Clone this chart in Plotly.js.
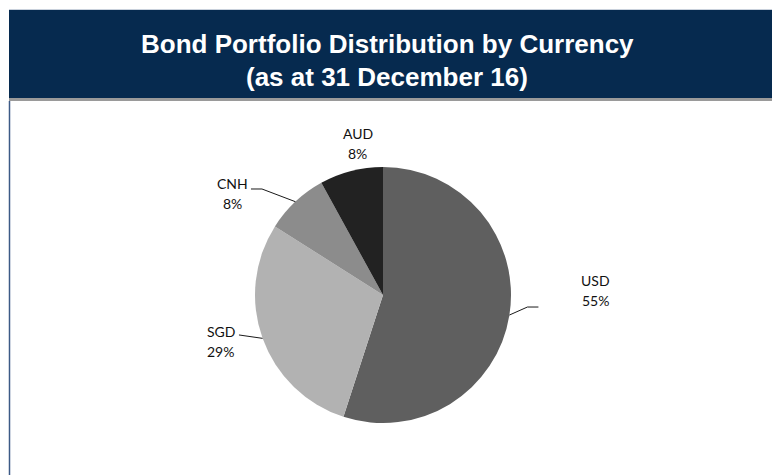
<!DOCTYPE html>
<html>
<head>
<meta charset="utf-8">
<script src="https://cdn.plot.ly/plotly-3.0.1.min.js"></script>
<style>html,body{margin:0;padding:0;background:#fff;}#chart{width:772px;height:475px;}</style>
</head>
<body>
<div id="chart"></div>
<script>
// ---- data ----
const categories = ['USD', 'SGD', 'CNH', 'AUD'];
const shares = [55, 29, 8, 8];
const shareLabels = ['55%', '29%', '8%', '8%'];
const titleLines = ['Bond Portfolio Distribution by Currency', '(as at 31 December 16)'];

// ---- style ----
const W = 772, H = 475;
const sliceColors = ['#5f5f5f', '#b2b2b2', '#8c8c8c', '#222222'];
const pie = {cx: 383, cy: 295, r: 128};
// label placement offsets (px) relative to the slice's outer mid-point
const labelLayout = {
  USD: {leader: [[18, -8], [29, -8]], text: [86, -24.5]},
  SGD: {leader: [[-23.6, -3.4]], text: [-41.6, 3]},
  CNH: {leader: [[-33.4, -12.7], [-44.4, -12.7]], text: [-63, -7.7]},
  AUD: {leader: [], text: [6.8, -27.6]}
};
const px = x => x / W;
const py = y => 1 - y / H;

const shapes = [
  // header band
  {type: 'rect', xref: 'paper', yref: 'paper', x0: px(9), x1: px(772), y0: py(98), y1: py(10),
   fillcolor: '#062a4f', line: {width: 0}},
  {type: 'line', xref: 'paper', yref: 'paper', x0: px(9), x1: px(772), y0: py(9.5), y1: py(9.5),
   line: {color: '#c9d1dc', width: 1}},
  {type: 'rect', xref: 'paper', yref: 'paper', x0: px(9), x1: px(772), y0: py(101), y1: py(98),
   fillcolor: '#9a9a9a', line: {width: 0}},
  // left frame line
  {type: 'line', xref: 'paper', yref: 'paper', x0: px(9.5), x1: px(9.5), y0: py(101), y1: py(475),
   line: {color: '#3c5a86', width: 1.5}}
];
const annotations = [];

titleLines.forEach((t, i) => {
  annotations.push({
    xref: 'paper', yref: 'paper', x: px(387), y: py(44 + i * 33),
    xanchor: 'center', yanchor: 'middle', showarrow: false, text: t,
    font: {family: 'Liberation Sans, Arial, sans-serif', size: 26, color: '#ffffff', weight: 'bold'}
  });
});

const total = shares.reduce((a, b) => a + b, 0);
let cum = 0;
categories.forEach((c, i) => {
  const mid = (cum + shares[i] / 2) / total * 2 * Math.PI;
  cum += shares[i];
  const ex = pie.cx + pie.r * Math.sin(mid);
  const ey = pie.cy - pie.r * Math.cos(mid);
  const L = labelLayout[c];
  if (L.leader.length) {
    let d = `M ${px(ex)},${py(ey)}`;
    L.leader.forEach(p => { d += ` L ${px(ex + p[0])},${py(ey + p[1])}`; });
    shapes.push({type: 'path', xref: 'paper', yref: 'paper', path: d, line: {color: '#1a1a1a', width: 1}});
  }
  const tx = ex + L.text[0], ty = ey + L.text[1];
  [c, shareLabels[i]].forEach((t, k) => {
    annotations.push({
      xref: 'paper', yref: 'paper', x: px(tx), y: py(ty - 10 + k * 20),
      xanchor: 'center', yanchor: 'middle', showarrow: false, text: t,
      font: {family: 'Lato, Noto Sans, sans-serif', size: 14, color: '#111111'}
    });
  });
});

const trace = {
  type: 'pie',
  labels: categories,
  values: shares,
  sort: false,
  direction: 'clockwise',
  rotation: 0,
  textinfo: 'none',
  hoverinfo: 'label+percent',
  showlegend: false,
  marker: {colors: sliceColors, line: {width: 0}},
  domain: {x: [px(pie.cx - pie.r), px(pie.cx + pie.r)], y: [py(pie.cy + pie.r), py(pie.cy - pie.r)]}
};

Plotly.newPlot('chart', [trace], {
  width: W, height: H,
  margin: {l: 0, r: 0, t: 0, b: 0},
  paper_bgcolor: '#ffffff',
  showlegend: false,
  shapes: shapes,
  annotations: annotations
}, {displayModeBar: false, staticPlot: true});
</script>
</body>
</html>
